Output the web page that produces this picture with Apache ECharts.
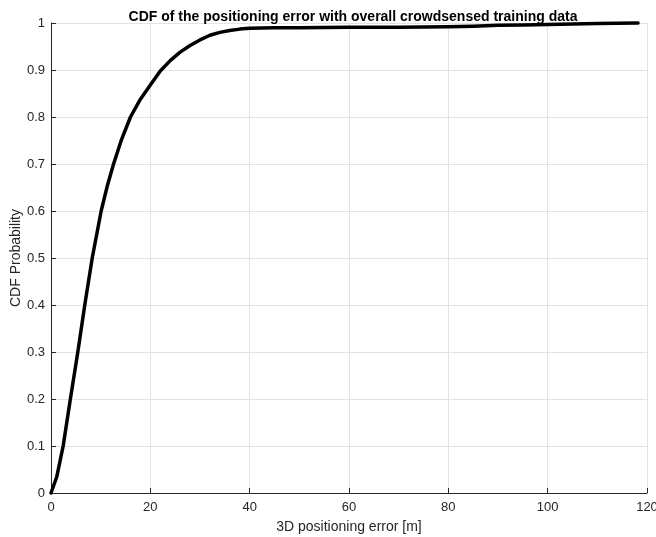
<!DOCTYPE html>
<html>
<head>
<meta charset="utf-8">
<script src="https://cdn.jsdelivr.net/npm/echarts@6/dist/echarts.min.js"></script>
<style>html,body{margin:0;padding:0;background:#fff;}#c{width:656px;height:537px;}</style>
</head>
<body>
<div id="c"></div>
<script>
const errorX = [0, 1.15, 2.45, 3.9, 5.4, 6.8, 8.3, 10.1, 11.3, 12.6, 14.2, 16, 18, 20, 22, 24, 26, 28, 30, 32, 34, 36, 38, 40, 45, 50, 60, 70, 80, 85, 90, 95, 100, 105, 110, 114, 118.2];
const cdfY   = [0, 0.034, 0.1, 0.2, 0.3, 0.4, 0.5, 0.6, 0.652, 0.7, 0.752, 0.8, 0.838, 0.868, 0.898, 0.92, 0.938, 0.952, 0.964, 0.974, 0.98, 0.984, 0.987, 0.989, 0.99, 0.99, 0.991, 0.991, 0.992, 0.993, 0.995, 0.996, 0.997, 0.998, 0.999, 0.9995, 1.0];
const xTicks = [0, 20, 40, 60, 80, 100, 120];
const yTicks = [0, 0.1, 0.2, 0.3, 0.4, 0.5, 0.6, 0.7, 0.8, 0.9, 1];
const titleText = 'CDF of the positioning error with overall crowdsensed training data';
const xLabel = '3D positioning error [m]';
const yLabel = 'CDF Probability';

const chart = echarts.init(document.getElementById('c'), null, {renderer: 'canvas'});
const ink = '#262626';
const font = 'Liberation Sans';
chart.setOption({
  animation: false,
  backgroundColor: '#ffffff',
  title: {
    text: titleText,
    left: 348, top: 5, textAlign: 'center',
    textStyle: {fontFamily: font, fontSize: 14, fontWeight: 'bold', color: '#000'}
  },
  grid: {left: 51, right: 9, top: 23, bottom: 44, containLabel: false, outerBoundsMode: 'none'},
  xAxis: {
    type: 'value', min: xTicks[0], max: xTicks[xTicks.length - 1], interval: 20,
    name: xLabel, nameLocation: 'middle', nameGap: 27,
    nameTextStyle: {fontFamily: font, fontSize: 14, color: ink},
    axisLine: {show: true, lineStyle: {color: ink, width: 1}},
    axisTick: {show: true, inside: true, length: 5, lineStyle: {color: ink}},
    axisLabel: {fontFamily: font, fontSize: 13, color: ink, margin: 8},
    splitLine: {show: true, lineStyle: {color: '#e3e3e3', width: 1}}
  },
  yAxis: {
    type: 'value', min: yTicks[0], max: yTicks[yTicks.length - 1], interval: 0.1,
    name: yLabel, nameLocation: 'middle', nameGap: 28, nameMoveOverlap: false,
    nameTextStyle: {fontFamily: font, fontSize: 14, color: ink},
    axisLine: {show: true, lineStyle: {color: ink, width: 1}},
    axisTick: {show: true, inside: true, length: 5, lineStyle: {color: ink}},
    axisLabel: {fontFamily: font, fontSize: 13, color: ink, margin: 6,
      formatter: v => String(Math.round(v * 10) / 10)},
    splitLine: {show: true, lineStyle: {color: '#e3e3e3', width: 1}}
  },
  series: [{
    type: 'line',
    data: errorX.map((x, i) => [x, cdfY[i]]),
    showSymbol: false,
    smooth: false,
    lineStyle: {color: '#000', width: 3.5, cap: 'round', join: 'round'},
    clip: false
  }]
});
</script>
</body>
</html>
